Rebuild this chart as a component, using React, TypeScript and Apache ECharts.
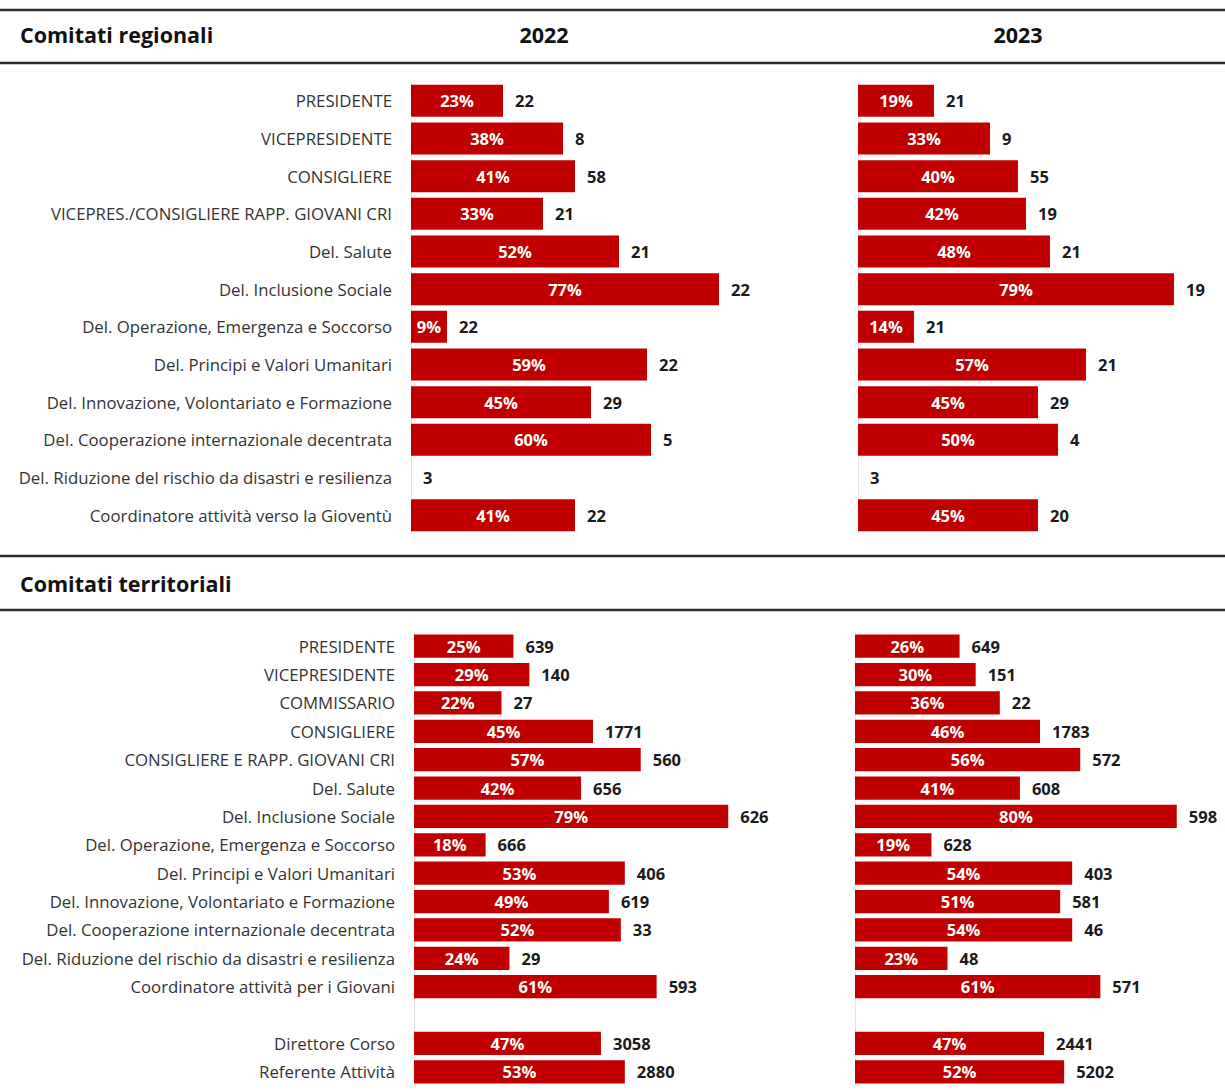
import React, { useEffect, useRef } from "react";
import * as echarts from "echarts";

// Comitati regionali
const regCategories = [
  "PRESIDENTE",
  "VICEPRESIDENTE",
  "CONSIGLIERE",
  "VICEPRES./CONSIGLIERE RAPP. GIOVANI CRI",
  "Del. Salute",
  "Del. Inclusione Sociale",
  "Del. Operazione, Emergenza e Soccorso",
  "Del. Principi e Valori Umanitari",
  "Del. Innovazione, Volontariato e Formazione",
  "Del. Cooperazione internazionale decentrata",
  "Del. Riduzione del rischio da disastri e resilienza",
  "Coordinatore attività verso la Gioventù",
];
const regPct2022 = [23, 38, 41, 33, 52, 77, 9, 59, 45, 60, 0, 41];
const regCount2022 = [22, 8, 58, 21, 21, 22, 22, 22, 29, 5, 3, 22];
const regPct2023 = [19, 33, 40, 42, 48, 79, 14, 57, 45, 50, 0, 45];
const regCount2023 = [21, 9, 55, 19, 21, 19, 21, 21, 29, 4, 3, 20];

// Comitati territoriali
const terCategories = [
  "PRESIDENTE",
  "VICEPRESIDENTE",
  "COMMISSARIO",
  "CONSIGLIERE",
  "CONSIGLIERE E RAPP. GIOVANI CRI",
  "Del. Salute",
  "Del. Inclusione Sociale",
  "Del. Operazione, Emergenza e Soccorso",
  "Del. Principi e Valori Umanitari",
  "Del. Innovazione, Volontariato e Formazione",
  "Del. Cooperazione internazionale decentrata",
  "Del. Riduzione del rischio da disastri e resilienza",
  "Coordinatore attività per i Giovani",
  "",
  "Direttore Corso",
  "Referente Attività",
];
const terPct2022 = [25, 29, 22, 45, 57, 42, 79, 18, 53, 49, 52, 24, 61, null, 47, 53];
const terCount2022 = [639, 140, 27, 1771, 560, 656, 626, 666, 406, 619, 33, 29, 593, null, 3058, 2880];
const terPct2023 = [26, 30, 36, 46, 56, 41, 80, 19, 54, 51, 54, 23, 61, null, 47, 52];
const terCount2023 = [649, 151, 22, 1783, 572, 608, 598, 628, 403, 581, 46, 48, 571, null, 2441, 5202];

const years = ["2022", "2023"];
const sectionTitles = ["Comitati regionali", "Comitati territoriali"];

const RED = "#C00000";
const FONT = "'Open Sans'";

export default function App() {
  const ref = useRef<HTMLDivElement>(null);

  useEffect(() => {
    document.body.style.margin = "0";
    const chart = echarts.init(ref.current!, null, { renderer: "svg" });

    const grids = [
      { left: 411, top: 82, width: 360, height: 452 },
      { left: 858, top: 82, width: 360, height: 452 },
      { left: 414, top: 632, width: 358, height: 454 },
      { left: 855, top: 632, width: 362, height: 454 },
    ];
    const cats = [regCategories, regCategories, terCategories, terCategories];
    const pcts = [regPct2022, regPct2023, terPct2022, terPct2023];
    const counts = [regCount2022, regCount2023, terCount2022, terCount2023];
    const gaps = ["15%", "15%", "18%", "18%"];

    const xAxis = grids.map((_, i) => ({
      type: "value",
      gridIndex: i,
      min: 0,
      max: 90,
      show: false,
    }));
    const yAxis = grids.map((_, i) => ({
      type: "category",
      gridIndex: i,
      inverse: true,
      data: cats[i],
      axisTick: { show: false },
      axisLine: { show: true, lineStyle: { color: "#e3e3e3", width: 1 } },
      axisLabel: {
        show: i % 2 === 0,
        margin: 19,
        fontFamily: FONT,
        fontSize: 16.8,
        color: "#333",
      },
    }));

    const series: any[] = [];
    grids.forEach((_, i) => {
      series.push({
        type: "bar",
        xAxisIndex: i,
        yAxisIndex: i,
        data: pcts[i],
        barCategoryGap: gaps[i],
        itemStyle: { color: RED },
        label: {
          show: true,
          position: "inside",
          fontFamily: FONT,
          fontSize: 16.5,
          fontWeight: "bold",
          color: "#fff",
          formatter: (p: any) => (p.value ? p.value + "%" : ""),
        },
        z: 2,
      });
      series.push({
        type: "bar",
        xAxisIndex: i,
        yAxisIndex: i,
        barGap: "-100%",
        barCategoryGap: gaps[i],
        data: pcts[i].map((v, k) => (counts[i][k] == null ? null : { value: v, count: counts[i][k] })),
        itemStyle: { color: "rgba(0,0,0,0)" },
        label: {
          show: true,
          position: "right",
          distance: 12,
          fontFamily: FONT,
          fontSize: 16.5,
          fontWeight: "bold",
          color: "#1a1a1a",
          formatter: (p: any) => (p.data && p.data.count != null ? String(p.data.count) : ""),
        },
        silent: true,
        z: 3,
      });
    });

    const headerLine = (y: number) => ({
      type: "line",
      shape: { x1: 0, y1: y, x2: 1225, y2: y },
      style: { stroke: "#2b2b2b", lineWidth: 2.5 },
    });
    const headerText = (text: string, x: number, y: number, align: string) => ({
      type: "text",
      x,
      y,
      style: {
        text,
        fontFamily: FONT,
        fontSize: 21.5,
        fontWeight: "bold",
        fill: "#111",
        align,
        verticalAlign: "middle",
      },
    });

    chart.setOption({
      animation: false,
      backgroundColor: "#fff",
      grid: grids,
      xAxis,
      yAxis,
      series,
      graphic: [
        headerLine(10),
        headerLine(63),
        headerText(sectionTitles[0], 20, 34, "left"),
        headerText(years[0], 544, 34, "center"),
        headerText(years[1], 1018, 34, "center"),
        headerLine(556),
        headerLine(610),
        headerText(sectionTitles[1], 20, 583, "left"),
      ],
    });

    return () => chart.dispose();
  }, []);

  return <div ref={ref} style={{ width: 1225, height: 1090 }} />;
}
